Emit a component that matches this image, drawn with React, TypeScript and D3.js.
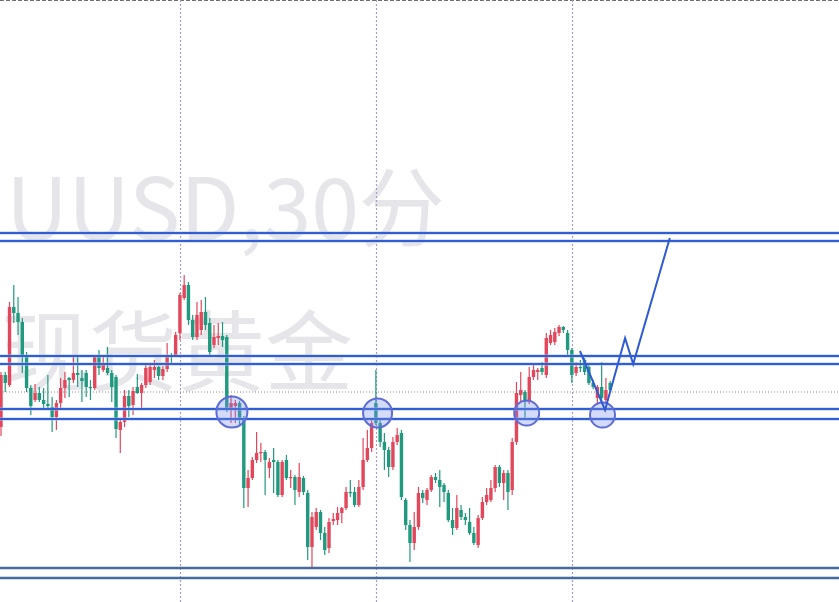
import React from "react";
import * as d3 from "d3";

// OHLC (open, high, low, close) of 30-minute bars
const candles: [number, number, number, number][] = [
  [2597.3, 2602.8, 2596.4, 2602.5], [2602.5, 2602.8, 2600.8, 2601.7], [2601.5, 2609.8, 2601.3, 2609.3],
  [2609.3, 2611.5, 2607.7, 2608.7], [2608.7, 2610.3, 2606.5, 2607.8], [2607.8, 2608.2, 2602.7, 2604.5],
  [2604.5, 2604.8, 2600.8, 2601.2], [2601.2, 2601.5, 2598.5, 2599.4], [2600.0, 2601.6, 2599.8, 2600.7],
  [2600.7, 2601.3, 2599.8, 2600.0], [2600.0, 2601.2, 2599.0, 2599.6], [2599.6, 2602.5, 2599.0, 2599.4],
  [2599.3, 2600.3, 2596.8, 2598.3], [2598.3, 2600.0, 2597.0, 2599.7], [2599.7, 2602.2, 2599.2, 2601.2],
  [2601.2, 2602.8, 2600.2, 2602.0], [2602.2, 2602.3, 2600.3, 2602.0], [2602.0, 2604.4, 2601.7, 2602.7],
  [2602.7, 2604.5, 2601.3, 2602.5], [2602.2, 2603.0, 2599.8, 2601.9], [2602.7, 2603.0, 2600.3, 2601.3],
  [2601.3, 2602.0, 2600.0, 2601.2], [2601.2, 2604.5, 2601.0, 2604.3], [2604.3, 2605.0, 2602.5, 2603.2],
  [2603.0, 2604.5, 2602.8, 2603.5], [2603.2, 2605.3, 2602.5, 2602.7], [2602.7, 2603.0, 2599.8, 2601.3],
  [2602.3, 2602.5, 2596.2, 2597.1], [2597.0, 2598.2, 2594.7, 2597.8], [2597.8, 2601.0, 2597.3, 2600.4],
  [2600.4, 2601.0, 2598.3, 2599.4], [2599.5, 2601.3, 2598.5, 2600.9], [2601.3, 2602.6, 2600.6, 2600.7],
  [2600.7, 2601.7, 2599.0, 2601.5], [2601.5, 2603.5, 2601.2, 2603.2], [2601.8, 2603.6, 2601.5, 2603.3],
  [2603.0, 2604.0, 2602.2, 2603.3], [2603.3, 2603.4, 2602.0, 2602.4], [2602.4, 2603.4, 2602.0, 2603.1],
  [2603.1, 2605.7, 2602.8, 2604.5], [2604.5, 2604.7, 2603.5, 2604.3], [2604.5, 2606.8, 2604.3, 2606.5],
  [2606.7, 2610.7, 2606.0, 2610.5], [2610.2, 2612.5, 2610.0, 2611.5], [2611.5, 2611.8, 2607.5, 2608.0],
  [2608.0, 2608.5, 2606.0, 2606.3], [2606.3, 2609.8, 2606.0, 2608.5], [2607.0, 2610.0, 2606.5, 2608.8],
  [2608.8, 2610.3, 2607.0, 2607.5], [2607.7, 2608.2, 2604.5, 2604.8], [2605.5, 2607.5, 2605.2, 2606.3],
  [2606.2, 2607.7, 2605.5, 2606.4], [2606.4, 2607.8, 2605.3, 2606.0], [2606.3, 2606.5, 2598.8, 2599.2],
  [2599.2, 2600.5, 2597.7, 2599.7], [2599.4, 2600.0, 2597.7, 2599.7], [2599.7, 2599.9, 2597.5, 2598.2],
  [2598.2, 2598.4, 2589.2, 2591.2], [2591.2, 2593.0, 2589.3, 2592.2], [2592.2, 2594.3, 2592.0, 2594.0],
  [2594.0, 2596.8, 2593.7, 2594.7], [2594.7, 2595.7, 2593.8, 2594.8], [2594.8, 2595.0, 2590.5, 2594.0],
  [2593.2, 2594.2, 2592.2, 2593.8], [2594.0, 2595.2, 2590.7, 2593.8], [2593.8, 2594.0, 2590.3, 2590.5],
  [2590.5, 2594.0, 2590.3, 2593.8], [2594.0, 2594.5, 2592.0, 2592.2], [2592.2, 2593.0, 2591.2, 2592.3],
  [2592.3, 2592.5, 2589.5, 2591.0], [2590.8, 2593.7, 2590.3, 2592.3], [2592.2, 2592.4, 2590.5, 2590.8],
  [2590.7, 2591.0, 2584.0, 2585.3], [2585.3, 2588.8, 2583.2, 2588.3], [2587.3, 2589.2, 2587.0, 2588.8],
  [2588.8, 2589.0, 2586.0, 2586.7], [2586.7, 2587.3, 2584.5, 2585.0], [2585.2, 2588.2, 2584.7, 2587.8],
  [2587.9, 2588.7, 2587.5, 2588.1], [2588.0, 2589.3, 2587.5, 2588.7], [2588.7, 2589.3, 2587.7, 2589.2],
  [2589.2, 2591.3, 2589.0, 2590.8], [2590.8, 2592.0, 2590.3, 2590.7], [2590.8, 2591.3, 2589.3, 2589.5],
  [2589.5, 2592.0, 2589.3, 2591.3], [2591.3, 2596.2, 2591.0, 2594.0], [2594.0, 2597.0, 2593.8, 2595.2],
  [2595.2, 2598.0, 2594.8, 2597.7], [2599.7, 2603.0, 2597.5, 2597.7], [2597.7, 2598.0, 2595.3, 2595.8],
  [2595.8, 2596.7, 2593.0, 2595.0], [2595.0, 2595.3, 2592.3, 2593.3], [2593.3, 2596.3, 2593.0, 2595.8],
  [2595.8, 2597.2, 2595.5, 2596.5], [2596.7, 2597.0, 2590.0, 2590.3], [2590.0, 2590.2, 2587.0, 2587.5],
  [2587.5, 2588.0, 2583.8, 2585.7], [2585.7, 2588.8, 2585.0, 2587.3], [2587.3, 2591.3, 2587.0, 2590.7],
  [2590.7, 2591.0, 2589.7, 2590.2], [2590.0, 2591.2, 2589.5, 2591.0], [2591.0, 2592.5, 2590.8, 2592.3],
  [2592.3, 2592.7, 2591.7, 2592.0], [2592.0, 2593.0, 2589.3, 2591.3], [2591.5, 2591.7, 2589.8, 2590.8],
  [2590.7, 2591.0, 2587.8, 2588.0], [2588.0, 2589.2, 2586.5, 2587.2], [2587.2, 2590.5, 2587.0, 2589.2],
  [2589.0, 2589.5, 2588.0, 2588.3], [2588.3, 2588.7, 2587.5, 2588.0], [2587.8, 2589.2, 2586.5, 2586.7],
  [2586.7, 2587.3, 2585.5, 2585.7], [2585.5, 2588.5, 2585.2, 2588.2], [2588.2, 2590.3, 2588.0, 2589.8],
  [2589.8, 2591.2, 2589.5, 2590.5], [2590.0, 2592.0, 2589.8, 2591.2], [2591.2, 2593.5, 2590.8, 2593.3],
  [2593.3, 2593.5, 2591.3, 2591.7], [2591.7, 2593.0, 2590.0, 2592.7], [2592.7, 2593.0, 2589.0, 2590.8],
  [2591.0, 2596.2, 2590.5, 2595.8], [2595.8, 2601.8, 2595.5, 2600.7], [2600.5, 2602.8, 2599.8, 2601.0],
  [2600.8, 2601.0, 2598.2, 2599.8], [2599.8, 2603.3, 2599.6, 2602.3], [2602.3, 2603.5, 2602.0, 2603.0],
  [2602.8, 2603.2, 2602.0, 2603.0], [2603.2, 2603.8, 2602.5, 2602.8], [2602.5, 2606.7, 2602.2, 2606.2],
  [2605.7, 2607.0, 2605.5, 2606.5], [2605.8, 2607.2, 2605.5, 2606.8], [2606.7, 2607.5, 2606.4, 2607.3],
  [2607.3, 2607.4, 2606.7, 2607.0], [2606.7, 2607.0, 2604.5, 2605.0], [2605.0, 2605.2, 2601.7, 2602.5],
  [2602.7, 2603.8, 2602.4, 2603.3], [2603.3, 2604.0, 2602.8, 2603.2], [2604.0, 2604.2, 2602.5, 2602.8],
  [2603.3, 2603.5, 2601.5, 2601.7], [2601.7, 2602.0, 2601.1, 2601.3], [2600.2, 2601.5, 2599.5, 2601.3],
  [2601.3, 2603.8, 2599.8, 2600.2], [2600.0, 2602.2, 2599.7, 2601.0], [2601.7, 2601.9, 2600.8, 2601.0],
];

// horizontal support / resistance levels
const blueLevels = [2616.7, 2615.9, 2604.4, 2603.6, 2599.1, 2598.1];
const slateLevels = [2583.2, 2582.2];
const lastPrice = 2600.8;
// bar indexes where a new session starts
const sessionStarts = [42, 88, 134];
// highlighted touches: [bar index, price, radius]
const touches: [number, number, number][] = [
  [54.2, 2598.8, 15.5],
  [88.4, 2598.7, 14.5],
  [123.4, 2598.7, 12.5],
  [141.2, 2598.5, 12.5],
];
// projected path: [bar index, price]
const projection: [number, number][] = [
  [135.9, 2604.9],
  [141.8, 2599.0],
  [146.5, 2606.2],
  [148.4, 2603.6],
  [157.0, 2616.2],
];
const watermark1 = "UUSD,30分";
const watermark2 = "现货黄金";

const W = 839;
const H = 602;
const UP = "#e2475b";
const DOWN = "#1f9a7e";

export default function App() {
  const x = d3.scaleLinear().domain([0, 196]).range([1, 1 + 196 * 4.26]);
  const y = d3.scaleLinear().domain([2580, 2640]).range([600, 0]);
  const bw = 3.4;
  const line = d3
    .line<[number, number]>()
    .x((d) => x(d[0]))
    .y((d) => y(d[1]));

  return (
    <div style={{ position: "absolute", left: 0, top: 0 }}>
      <svg width={W} height={H} style={{ display: "block", background: "#fff" }}>
        <rect width={W} height={H} fill="#ffffff" />
        {/* watermark */}
        <g fontFamily="'Noto Sans CJK SC', 'Noto Sans', sans-serif" fill="#e5e5ea">
          <text x={6} y={240} fontSize={86}>
            {watermark1}
          </text>
          <text x={1} y={384} fontSize={88}>
            {watermark2}
          </text>
        </g>
        {/* top dashed border */}
        <line x1={0} x2={W} y1={0.5} y2={0.5} stroke="#6f6f6f" strokeDasharray="4 2" />
        {/* session separators */}
        {sessionStarts.map((s) => (
          <line
            key={s}
            x1={Math.round(x(s)) + 0.5}
            x2={Math.round(x(s)) + 0.5}
            y1={0}
            y2={H}
            stroke="#a49fc2"
            strokeWidth={1.2}
            strokeDasharray="2 2"
          />
        ))}
        {/* last price dotted line */}
        <line
          x1={0}
          x2={W}
          y1={y(lastPrice)}
          y2={y(lastPrice)}
          stroke="#8a8a8a"
          strokeWidth={1}
          strokeDasharray="1 2"
        />
        {/* candles */}
        {candles.map(([o, h, l, c], i) => {
          const col = c >= o ? UP : DOWN;
          const cx = x(i);
          const top = y(Math.max(o, c));
          const bot = y(Math.min(o, c));
          return (
            <g key={i}>
              <line x1={cx} x2={cx} y1={y(h)} y2={y(l)} stroke={col} strokeWidth={1.2} />
              <rect x={cx - bw / 2} y={top} width={bw} height={Math.max(1.2, bot - top)} fill={col} />
            </g>
          );
        })}
        {/* level lines */}
        {blueLevels.map((p, i) => (
          <g key={"b" + i}>
            <line x1={0} x2={W} y1={y(p)} y2={y(p)} stroke="#a9bdf0" strokeWidth={3.5} opacity={0.6} />
            <line x1={0} x2={W} y1={y(p)} y2={y(p)} stroke="#2f5fd0" strokeWidth={2} />
          </g>
        ))}
        {slateLevels.map((p, i) => (
          <line key={"s" + i} x1={0} x2={W} y1={y(p)} y2={y(p)} stroke="#456a9c" strokeWidth={2.4} />
        ))}
        {/* touches */}
        {touches.map(([i, p, r], k) => (
          <circle
            key={k}
            cx={x(i)}
            cy={y(p)}
            r={r}
            fill="rgba(120,140,235,0.32)"
            stroke="#5d6cd8"
            strokeWidth={2}
          />
        ))}
        {/* projection */}
        <path d={line(projection) || ""} fill="none" stroke="#2f5ad6" strokeWidth={2} strokeLinejoin="miter" />
      </svg>
    </div>
  );
}
